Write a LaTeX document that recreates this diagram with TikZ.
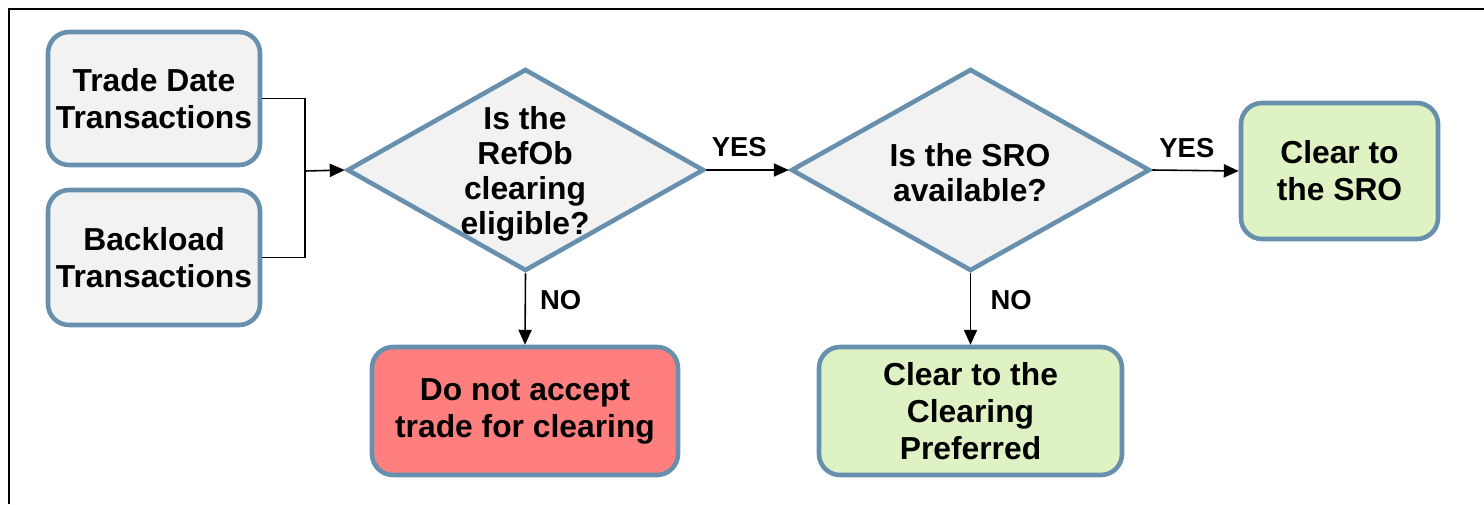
\documentclass[tikz,border=0pt]{standalone}
\usepackage{fontspec}
\setmainfont{Liberation Sans}
\usepackage{xcolor}
\usepackage{tikz}
\usetikzlibrary{shapes.geometric,arrows.meta}
\definecolor{edge}{HTML}{6690AE}
\definecolor{greyfill}{HTML}{F2F2F2}
\definecolor{okfill}{HTML}{DEF2C3}
\definecolor{nofill}{HTML}{FF7F7F}
\tikzset{
  box/.style={draw=edge, line width=2.6pt, rounded corners=12pt, align=center,
    font=\bfseries\fontsize{18.1pt}{21pt}\selectfont, inner sep=0pt},
  decision/.style={diamond, draw=edge, fill=greyfill, line width=2.6pt, inner sep=0pt},
  dtxt/.style={align=center, font=\bfseries\fontsize{18.1pt}{20pt}\selectfont, inner sep=0pt},
  conn/.style={draw=black, line width=0.9pt},
  arr/.style={conn, -{Triangle[length=8.5pt, width=7.5pt]}},
  lbl/.style={font=\bfseries\fontsize{15.6pt}{18pt}\selectfont, inner sep=3pt},
}

\begin{document}
\begin{tikzpicture}[x=0.02cm, y=-0.02cm]
  \def\px{0.02cm}
  \useasboundingbox (0,0) rectangle (1484,504);
  \draw[line width=1.4pt] (9,504) |- (1484,9);

  % inputs
  \node[box, fill=greyfill, minimum width=212*\px, minimum height=133*\px] (trade) at (154,98.5) {Trade Date\\Transactions};
  \node[box, fill=greyfill, minimum width=212*\px, minimum height=135*\px] (backload) at (154,257.5) {Backload\\Transactions};
  \coordinate (join) at (305,171);

  % decisions
  \node[decision, minimum width=357*\px, minimum height=202*\px] (refob) at (525.5,170) {};
  \node[dtxt] (refobtxt) at (525,174) {Is the\\RefOb\\clearing\\eligible?};
  \node[decision, minimum width=359*\px, minimum height=202*\px] (sro) at (970.5,170) {};
  \node[dtxt] (srotxt) at (970,173) {Is the SRO\\available?};

  % outcomes
  \node[box, fill=okfill, minimum width=197*\px, minimum height=136*\px] (clearsro) at (1339.5,171) {Clear to\\the SRO};
  \node[box, fill=nofill, minimum width=306*\px, minimum height=128*\px] (reject) at (525,411) {Do not accept\\trade for clearing};
  \node[box, fill=okfill, minimum width=303*\px, minimum height=128*\px] (clearpref) at (970.5,411) {Clear to the\\Clearing\\Preferred};

  \draw[conn] (trade.east) -| (join);
  \draw[conn] (backload.east) -| (join);
  \draw[arr] (join) -- (refob.west);
  \draw[arr] (refob.east) -- node[lbl, above=4pt, pos=0.4] (yes1) {YES} (sro.west);
  \draw[arr] (sro.east) -- node[lbl, above=4pt, pos=0.4] (yes2) {YES} (clearsro.west);
  \draw[arr] (refob.south) -- node[lbl, right=5pt, pos=0.38] (no1) {NO} (reject.north);
  \draw[arr] (sro.south) -- node[lbl, right=8pt, pos=0.38] (no2) {NO} (clearpref.north);
\end{tikzpicture}
\end{document}
